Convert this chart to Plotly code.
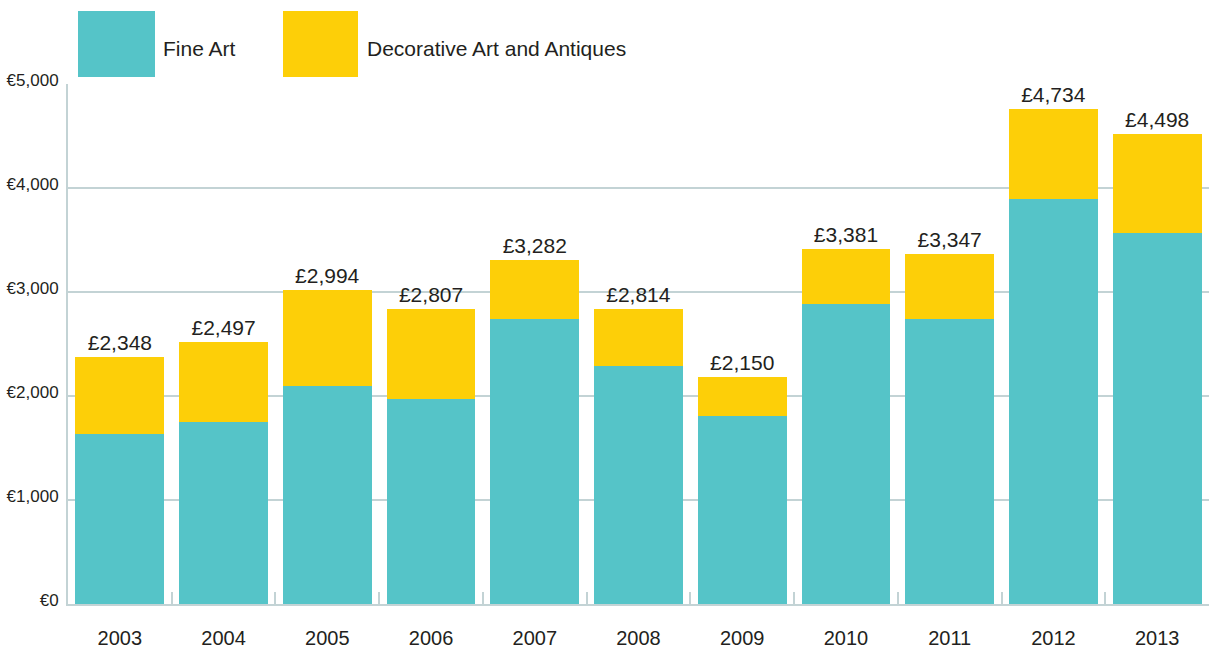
import plotly.graph_objects as go

# ---- data ----
years = ["2003", "2004", "2005", "2006", "2007", "2008", "2009", "2010", "2011", "2012", "2013"]
fine_art = [1630, 1752, 2101, 1969, 2745, 2287, 1806, 2889, 2736, 3899, 3565]
decorative = [743, 772, 920, 863, 561, 554, 372, 520, 634, 856, 959]
total_labels = [2348, 2497, 2994, 2807, 3282, 2814, 2150, 3381, 3347, 4734, 4498]
series_names = ["Fine Art", "Decorative Art and Antiques"]
y_ticks = [0, 1000, 2000, 3000, 4000, 5000]
y_tick_text = ["€" + f"{v:,}" for v in y_ticks]

# ---- style ----
TEAL = "#55c4c8"
YELLOW = "#fdcf08"
GRID = "#c3d3d5"
TEXT = "#231f20"
FONT = "Liberation Sans, Arial, Helvetica, sans-serif"

W, H = 1209, 650
ML, MR, MT, MB = 68, 0, 84, 46
plot_w = W - ML - MR
plot_h = H - MT - MB


def px2x(px):
    return (px - ML) / plot_w


def py2y(py):
    return (H - MB - py) / plot_h


fig = go.Figure()
fig.add_trace(go.Bar(
    x=years, y=fine_art, name=series_names[0],
    marker=dict(color=TEAL, line=dict(width=0)),
    hoverinfo="x+y",
))
fig.add_trace(go.Bar(
    x=years, y=decorative, name=series_names[1],
    marker=dict(color=YELLOW, line=dict(width=0)),
    text=[f"£{v:,}" for v in total_labels],
    textposition="outside",
    textfont=dict(family=FONT, size=21, color=TEXT),
    constraintext="none",
    cliponaxis=False,
    hoverinfo="x+y",
))

# legend swatches + labels (drawn as layout elements to match the big squares)
shapes = [
    dict(type="rect", xref="paper", yref="paper",
         x0=px2x(78), x1=px2x(155), y0=py2y(77), y1=py2y(11),
         fillcolor=TEAL, line=dict(width=0)),
    dict(type="rect", xref="paper", yref="paper",
         x0=px2x(283), x1=px2x(358), y0=py2y(77), y1=py2y(11),
         fillcolor=YELLOW, line=dict(width=0)),
]
annotations = [
    dict(xref="paper", yref="paper", x=px2x(161), y=py2y(48),
         text=series_names[0], showarrow=False, xanchor="left", yanchor="middle",
         font=dict(family=FONT, size=21, color=TEXT)),
    dict(xref="paper", yref="paper", x=px2x(365), y=py2y(48),
         text=series_names[1], showarrow=False, xanchor="left", yanchor="middle",
         font=dict(family=FONT, size=21, color=TEXT)),
]

fig.update_layout(
    width=W, height=H,
    margin=dict(l=ML, r=MR, t=MT, b=MB, pad=0),
    barmode="stack",
    bargap=0.143,
    showlegend=False,
    paper_bgcolor="white",
    plot_bgcolor="white",
    font=dict(family=FONT, color=TEXT),
    shapes=shapes,
    annotations=annotations,
    xaxis=dict(
        type="category",
        showgrid=False,
        showline=True, linecolor=GRID, linewidth=2,
        ticks="inside", tickson="boundaries", ticklen=12,
        tickcolor=GRID, tickwidth=2,
        tickfont=dict(family=FONT, size=20, color=TEXT),
        ticklabelstandoff=15,
        layer="below traces",
    ),
    yaxis=dict(
        range=[0, 5000],
        tickvals=y_ticks,
        ticktext=y_tick_text,
        showgrid=True, gridcolor=GRID, gridwidth=1.5,
        zeroline=False,
        showline=True, linecolor=GRID, linewidth=2,
        ticks="",
        tickfont=dict(family=FONT, size=17, color=TEXT),
        ticklabelstandoff=4,
        ticklabelshift=-4,
    ),
)

fig.write_html(
    "out.html",
    config={"displayModeBar": False},
    post_script="document.body.style.margin='0px';document.body.style.overflow='hidden';",
)
